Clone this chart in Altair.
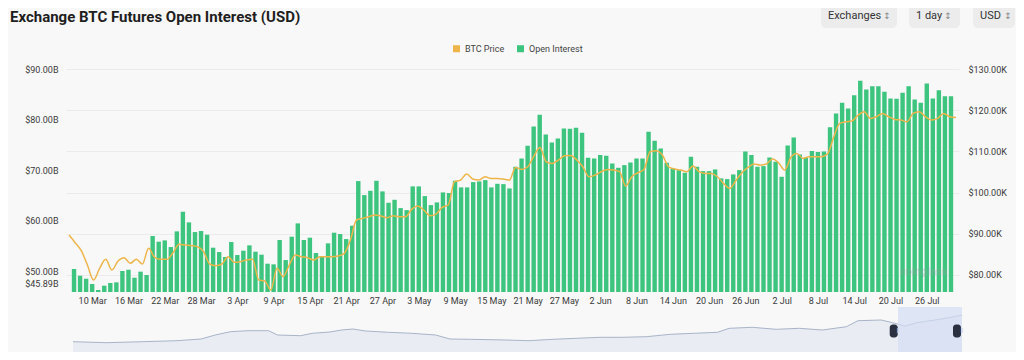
import altair as alt
import pandas as pd

# ---------------- data ----------------
start_date = "2025-03-07"

open_interest_b = [
    50.44, 49.11, 48.52, 47.47, 46.29, 47.14, 47.67, 47.80, 50.04, 50.30,
    48.72, 49.91, 49.25, 56.96, 55.84, 56.10, 54.78, 57.88, 61.77, 59.66,
    57.75, 57.95, 57.22, 54.65, 53.79, 52.81, 55.77, 53.20, 54.06, 55.11,
    53.86, 53.27, 51.49, 51.36, 56.17, 52.21, 56.83, 59.46, 56.17, 56.63,
    53.60, 53.00, 55.51, 57.62, 57.35, 56.36, 59.00, 67.83,
    65.06, 65.91, 67.89, 65.79, 63.54, 64.13, 62.49, 62.09, 66.78, 66.78,
    64.86, 63.08, 63.61, 65.59, 65.46, 67.89, 66.58, 66.58, 67.63, 67.76,
    68.02, 66.58, 67.29, 67.23, 66.38, 70.66, 72.31, 74.81, 78.63, 80.93,
    77.05, 75.47, 76.26, 78.24, 78.17, 78.37, 77.38, 72.44, 72.31, 72.97,
    72.84, 71.31, 70.46, 70.99, 71.52, 72.31, 72.31, 77.58, 75.80,
    74.29, 71.45, 70.33, 70.00, 69.47, 72.63, 70.66, 69.80, 69.80, 70.13,
    68.35, 68.22, 69.14, 70.00, 73.69, 72.97, 70.66, 70.79, 72.50, 71.65,
    68.68, 74.87, 76.46, 73.10, 72.50, 73.76, 73.56, 73.69, 78.50, 81.19,
    83.31, 82.19, 84.82, 87.66, 85.94, 86.60, 86.60, 85.48, 84.16, 84.10,
    85.28, 86.60, 83.96, 83.31, 87.13, 84.16, 85.81, 84.63, 84.63,
]

btc_price_k = [
    89.68, 87.82, 85.88, 82.40, 78.76, 81.59, 83.78, 81.19, 83.37, 84.18,
    82.81, 83.78, 82.65, 86.45, 84.26, 83.78, 83.78, 85.40, 87.42, 87.26,
    87.10, 86.85, 85.64, 82.65, 82.24, 82.65, 84.43, 83.05, 83.21, 83.62,
    83.78, 78.76, 78.52, 76.34, 81.59, 79.57, 82.40, 84.83, 84.43, 84.18,
    83.62, 84.43, 84.43, 84.43, 84.59, 85.24, 88.47, 93.33,
    93.73, 94.13, 94.54, 94.30, 93.89, 94.38, 94.13, 94.13, 95.91, 96.72,
    95.75, 94.38, 94.78, 96.40, 96.97, 102.63, 103.03, 104.49, 103.28, 103.03,
    103.84, 103.43, 103.43, 103.28, 103.03, 106.11, 105.62, 106.27, 108.86, 110.96,
    107.48, 107.08, 107.89, 108.94, 109.02, 107.89, 106.27, 103.84, 104.25, 105.06,
    105.62, 105.46, 105.06, 101.58, 103.84, 104.81, 105.60, 109.91, 110.15,
    109.10, 106.27, 105.70, 105.46, 105.06, 106.43, 105.06, 104.65, 104.65, 103.84,
    102.22, 101.01, 102.87, 104.81, 106.11, 106.92, 106.68, 106.92, 108.13, 107.24,
    105.46, 108.54, 109.51, 108.29, 108.70, 108.70, 108.70, 109.35, 113.39, 116.79,
    117.19, 117.35, 118.81, 119.62, 118.00, 118.41, 119.22, 118.41, 117.76, 117.60,
    117.19, 119.22, 119.62, 118.41, 117.60, 118.00, 119.22, 118.41, 118.24,
]

x_tick_dates = [
    "2025-03-10", "2025-03-16", "2025-03-22", "2025-03-28", "2025-04-03",
    "2025-04-09", "2025-04-15", "2025-04-21", "2025-04-27", "2025-05-03",
    "2025-05-09", "2025-05-15", "2025-05-21", "2025-05-27", "2025-06-02",
    "2025-06-08", "2025-06-14", "2025-06-20", "2025-06-26", "2025-07-02",
    "2025-07-08", "2025-07-14", "2025-07-20", "2025-07-26",
]
oi_ticks = [45.89, 50, 60, 70, 80, 90]
price_ticks = [80, 90, 100, 110, 120, 130]

# overview (navigator) strip
nav_pos = [
    0.0, 0.038, 0.078, 0.117, 0.144, 0.160, 0.177, 0.197, 0.220, 0.230,
    0.256, 0.269, 0.289, 0.302, 0.315, 0.329, 0.355, 0.381, 0.408, 0.424,
    0.447, 0.487, 0.513, 0.540, 0.566, 0.593, 0.619, 0.645, 0.672, 0.698,
    0.725, 0.738, 0.764, 0.791, 0.817, 0.843, 0.870, 0.883, 0.909, 0.922,
    0.936, 0.949, 0.975, 0.995, 1.0,
]
nav_level = [
    10.3, 9.3, 10.3, 11.3, 13.0, 17.0, 20.3, 21.3, 21.3, 17.0,
    16.3, 18.7, 20.0, 22.0, 23.0, 21.0, 19.7, 18.7, 17.0, 13.0,
    12.7, 12.0, 11.3, 12.7, 13.7, 14.7, 14.7, 15.3, 17.7, 18.7,
    19.7, 23.7, 24.7, 22.7, 23.7, 22.0, 25.3, 31.3, 32.0, 29.3,
    26.0, 29.3, 32.7, 36.0, 37.0,
]
nav_window = [0.928, 1.0]

series_names = ["BTC Price", "Open Interest"]
series_colors = ["#edb54a", "#3dc47e"]
controls = ["Exchanges", "1 day", "USD"]
title_text = "Exchange BTC Futures Open Interest (USD)"
watermark = "coinglass"

# ---------------- tables ----------------
dates = pd.date_range(start_date, periods=len(open_interest_b), freq="D").strftime("%Y-%m-%d").tolist()
df = pd.DataFrame({"date": dates, "oi": open_interest_b, "price": btc_price_k})
df["s_oi"] = series_names[1]
df["s_price"] = series_names[0]
nav_df = pd.DataFrame({"pos": nav_pos, "level": nav_level})
win_df = pd.DataFrame({"start": [nav_window[0]], "end": [nav_window[1]]})
handle_df = pd.DataFrame({"pos": nav_window})

W, H = 893, 283
FONT = "Roboto"


def dt(s, hours=0):
    y, m, d = map(int, s.split("-"))
    return alt.DateTime(year=y, month=m, date=d, hours=hours, utc=True)


x_scale = alt.Scale(type="utc", domain=[dt("2025-03-06", 12), dt("2025-07-30", 12)])
color_scale = alt.Scale(domain=series_names, range=series_colors)
oi_scale = alt.Scale(domain=[45.89, 90], range=[223, 0], nice=False, zero=False)
price_scale = alt.Scale(domain=[75.85, 130], range=[223, 0], nice=False, zero=False)
nav_x = alt.Scale(domain=[0, 1], range=[7, 896])
nav_y = alt.Scale(domain=[0, 45], range=[283, 238])

bars = alt.Chart(df).mark_bar(width=4.4).encode(
    x=alt.X(
        "date:T", scale=x_scale, title=None,
        axis=alt.Axis(
            values=[dt(s) for s in x_tick_dates], format="%-d %b", offset=-60,
            ticks=False, domain=False, grid=False, labelPadding=4,
            labelFontSize=9, labelColor="#3a3a3a", labelFont=FONT, labelOverlap=False,
        ),
    ),
    y=alt.Y(
        "oi:Q", scale=oi_scale, title=None,
        axis=alt.Axis(
            orient="left", values=oi_ticks,
            labelExpr="'$' + format(datum.value, '.2f') + 'B'",
            grid=False, ticks=False, domain=False, labelPadding=8,
            labelFontSize=9, labelColor="#3a3a3a", labelFont=FONT, labelOverlap=False,
            labelOffset={"condition": {"test": "datum.value < 46", "value": -9}, "value": 0},
        ),
    ),
    y2=alt.datum(45.89),
    color=alt.Color(
        "s_oi:N", scale=color_scale,
        legend=alt.Legend(
            orient="none", legendX=386, legendY=-25, direction="horizontal", title=None,
            symbolType="square", symbolSize=49, symbolStrokeWidth=0, labelFontSize=9,
            labelColor="#444444", labelFont=FONT, labelOffset=4, columnPadding=11, padding=0,
        ),
    ),
)

line = alt.Chart(df).mark_line(strokeWidth=1.5, interpolate="monotone").encode(
    x=alt.X("date:T", scale=x_scale, axis=None),
    y=alt.Y(
        "price:Q", scale=price_scale, title=None,
        axis=alt.Axis(
            orient="right", values=price_ticks,
            labelExpr="'$' + format(datum.value, '.2f') + 'K'",
            grid=True, gridColor="#ebebeb", ticks=False, domain=False, labelPadding=9,
            labelFontSize=9, labelColor="#3a3a3a", labelFont=FONT, labelOverlap=False,
        ),
    ),
    color=alt.Color("s_price:N", scale=color_scale, legend=None),
)

nav_area = alt.Chart(nav_df).mark_area(
    color="#e3e8f1", line={"color": "#a8b4c8", "strokeWidth": 1}
).encode(
    x=alt.X("pos:Q", scale=nav_x, axis=None),
    y=alt.Y("level:Q", scale=nav_y, axis=None),
)

nav_sel = alt.Chart(win_df).mark_rect(color="#d3ddf3", opacity=0.7).encode(
    x=alt.X("start:Q", scale=nav_x, axis=None),
    x2="end:Q",
    y=alt.YDatum(0, scale=nav_y, axis=None),
    y2=alt.Y2Datum(45),
)

handles = alt.Chart(handle_df).mark_bar(width=8, cornerRadius=3, color="#2a3040").encode(
    x=alt.X("pos:Q", scale=nav_x, axis=None),
    y=alt.YDatum(14.5, scale=nav_y, axis=None),
    y2=alt.Y2Datum(27.5),
)

grips = alt.Chart(handle_df).mark_text(text="‖", fontSize=7, color="#c9cfdb").encode(
    x=alt.X("pos:Q", scale=nav_x, axis=None),
    y=alt.YDatum(21, scale=nav_y, axis=None),
)

title = alt.Chart(pd.DataFrame({"t": [title_text]})).mark_text(
    align="left", baseline="alphabetic", fontSize=15, fontWeight="bold",
    font=FONT, color="#1e1e1e",
).encode(x=alt.value(-56), y=alt.value(-47), text="t:N")

mark_wm = alt.Chart(pd.DataFrame({"t": [watermark]})).mark_text(
    align="left", baseline="middle", fontSize=11, fontWeight="bold",
    font=FONT, color="#9aa0a6", opacity=0.35,
).encode(x=alt.value(834), y=alt.value(203), text="t:N")

# control buttons (top-right)
button_boxes = [(755, 831), (843, 894), (907, 949)]
text_left = [762, 850, 914]
glyph_x = [821, 882, 942]
ui_layers = []
for lbl, (bx0, bx1), tx, gx in zip(controls, button_boxes, text_left, glyph_x):
    one = pd.DataFrame({"t": [lbl]})
    ui_layers.append(
        alt.Chart(one).mark_rect(cornerRadius=5, color="#ececec").encode(
            x=alt.value(bx0), x2=alt.value(bx1), y=alt.value(-66), y2=alt.value(-41)
        )
    )
    ui_layers.append(
        alt.Chart(one).mark_text(align="left", baseline="middle", fontSize=11,
                                 font=FONT, color="#333333").encode(
            x=alt.value(tx), y=alt.value(-53), text="t:N"
        )
    )
    ui_layers.append(
        alt.Chart(one).mark_text(align="center", baseline="middle", fontSize=9,
                                 font="DejaVu Sans", color="#8a8a8a", text="↕").encode(
            x=alt.value(gx), y=alt.value(-53)
        )
    )

chart = alt.layer(
    bars, line, nav_area, nav_sel, handles, grips, title, mark_wm, *ui_layers
).resolve_scale(
    x="independent", y="independent"
).properties(
    width=W, height=H,
    autosize=alt.AutoSizeParams(type="none"),
    padding={"left": 58, "top": 61, "right": 57, "bottom": 0},
    background="#f8f8f8",
).configure_view(stroke=None)

chart.save("out.html", embed_options={"renderer": "svg", "actions": False})
